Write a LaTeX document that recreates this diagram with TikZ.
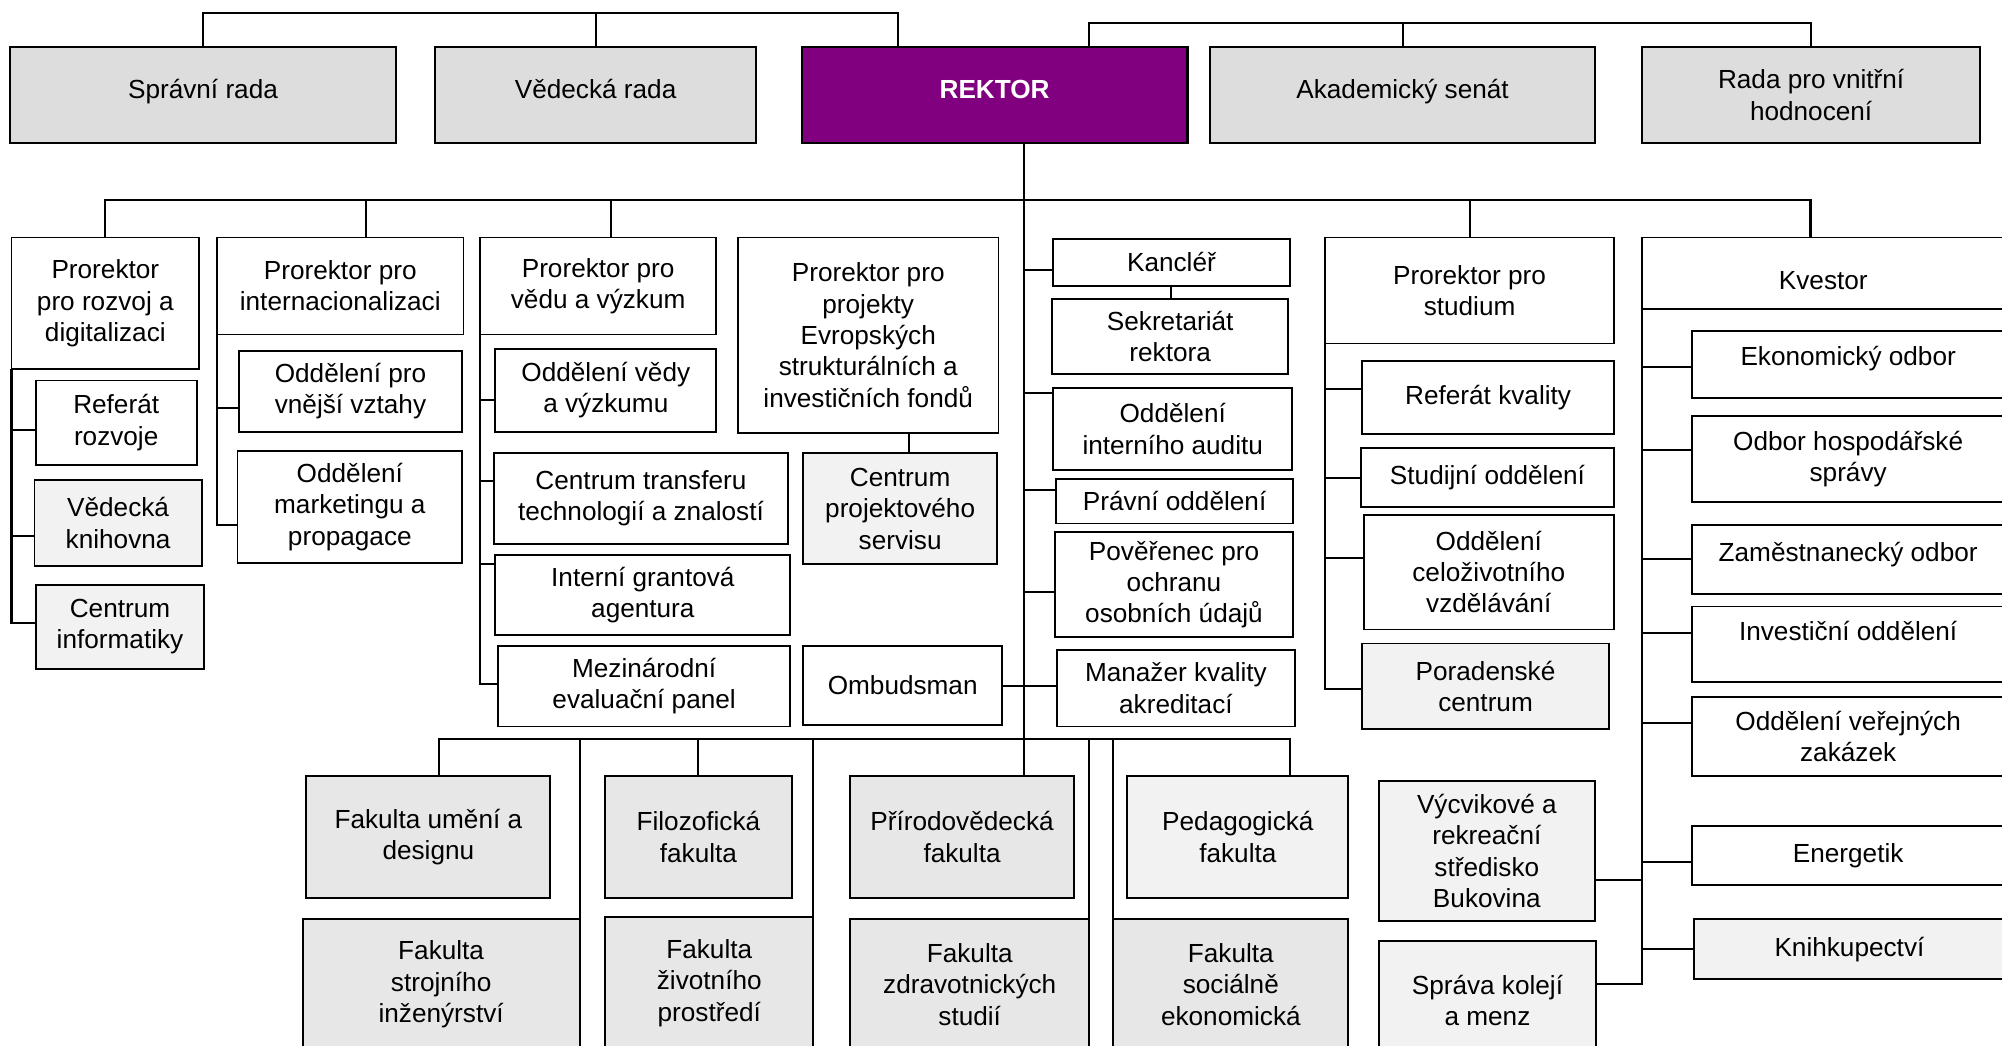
\documentclass[tikz,border=0pt]{standalone}
\usepackage{fontspec}
\setmainfont{Liberation Sans}
\definecolor{topgray}{HTML}{DDDDDD}
\definecolor{rektorpurple}{HTML}{800080}
\definecolor{palegray}{HTML}{F2F2F2}
\definecolor{facgray}{HTML}{E7E7E7}
% box given by its corners: [style]{name}{x1}{y1}{x2}{y2}{text}
\newcommand{\orgbox}[7][]{%
  \node[orgnode,#1,minimum width=#5pt-#3pt,minimum height=#6pt-#4pt]
    (#2) at ({(#3+#5)/2},{(#4+#6)/2}) {#7};}

\begin{document}
\begin{tikzpicture}[x=1pt,y=-1pt,
    orgnode/.style={draw,line width=1.5pt,fill=white,inner sep=0pt,outer sep=0pt,
      align=center,font=\fontsize{20.5}{24.5}\selectfont},
    topnode/.style={fill=topgray,line width=1.7pt},
    oneline/.style={text height=15pt,text depth=9pt},
    rektornode/.style={fill=rektorpurple,text=white,line width=1.7pt,
      font=\fontsize{20.5}{24.5}\selectfont\bfseries},
    palenode/.style={fill=palegray},
    facnode/.style={fill=facgray},
    link/.style={line width=1.6pt}]
  \useasboundingbox (0,0) rectangle (1568,819);
  \clip (0,0) rectangle (1568,819);

  % top row
  \orgbox[topnode,oneline]{spravni}{8}{37}{310}{112}{Správní rada}
  \orgbox[topnode,oneline]{vedecka}{341}{37}{592}{112}{Vědecká rada}
  \orgbox[rektornode,oneline]{rektor}{628}{37}{930}{112}{REKTOR}
  \orgbox[topnode,oneline]{senat}{948}{37}{1249}{112}{Akademický senát}
  \orgbox[topnode]{vnitrni}{1286}{37}{1551}{112}{Rada pro vnitřní\\hodnocení}

  % prorektor pro rozvoj
  \orgbox{rozvoj}{9}{186}{156}{289}{Prorektor\\pro rozvoj a\\digitalizaci}
  \orgbox{refrozvoj}{28}{298}{154}{364}{Referát\\rozvoje}
  \orgbox[palenode]{knihovna}{27}{376}{158}{443}{Vědecká\\knihovna}
  \orgbox[palenode]{informatika}{28}{458}{160}{524}{Centrum\\informatiky}

  % prorektor pro internacionalizaci
  \orgbox{intern}{170}{186}{363}{262}{Prorektor pro\\internacionalizaci}
  \orgbox{vztahy}{187}{275}{362}{338}{Oddělení pro\\vnější vztahy}
  \orgbox{marketing}{186}{353}{362}{441}{Oddělení\\marketingu a\\propagace}

  % prorektor pro vedu
  \orgbox{veda}{376}{186}{561}{262}{Prorektor pro\\vědu a výzkum}
  \orgbox{oddveda}{388}{273}{561}{338}{Oddělení vědy\\a výzkumu}
  \orgbox{transfer}{387}{355}{617}{426}{Centrum transferu\\technologií a znalostí}
  \orgbox{grant}{388}{435}{619}{497}{Interní grantová\\agentura}
  \orgbox{panel}{390}{506}{619}{569}{Mezinárodní\\evaluační panel}

  % prorektor pro projekty
  \orgbox{projekty}{578}{186}{782}{339}{Prorektor pro\\projekty\\Evropských\\strukturálních a\\investičních fondů}
  \orgbox[palenode]{servis}{629}{355}{781}{442}{Centrum\\projektového\\servisu}
  \orgbox{ombudsman}{629}{506}{785}{568}{Ombudsman}

  % pod rektorem
  \orgbox{kancler}{825}{187}{1010}{224}{Kancléř}
  \orgbox{sekretariat}{824}{234}{1009}{293}{Sekretariát\\rektora}
  \orgbox{audit}{825}{304}{1012}{368}{Oddělení\\interního auditu}
  \orgbox{pravni}{827}{375}{1013}{410}{Právní oddělení}
  \orgbox{poverenec}{826}{417}{1013}{499}{Pověřenec pro\\ochranu\\osobních údajů}
  \orgbox{manazer}{828}{509}{1014}{569}{Manažer kvality\\akreditací}

  % prorektor pro studium
  \orgbox{studium}{1038}{186}{1264}{269}{Prorektor pro\\studium}
  \orgbox{refkvality}{1067}{283}{1264}{340}{Referát kvality}
  \orgbox{studijni}{1066}{351}{1264}{397}{Studijní oddělení}
  \orgbox{celozivotni}{1068}{403}{1264}{493}{Oddělení\\celoživotního\\vzdělávání}
  \orgbox[palenode]{poradenske}{1067}{504}{1260}{571}{Poradenské\\centrum}

  % kvestor
  \orgbox[text height=30pt,text depth=4pt]{kvestor}{1286}{186}{1570}{242}{Kvestor}
  \orgbox[text height=15pt,text depth=13pt]{ekonomicky}{1325}{259}{1570}{312}{Ekonomický odbor}
  \orgbox{hospodarska}{1325}{326}{1570}{393}{Odbor hospodářské\\správy}
  \orgbox[text height=15pt,text depth=12pt]{zamestnanecky}{1325}{411}{1570}{465}{Zaměstnanecký odbor}
  \orgbox[text height=15pt,text depth=21pt]{investicni}{1325}{475}{1570}{534}{Investiční oddělení}
  \orgbox{zakazky}{1325}{546}{1570}{608}{Oddělení veřejných\\zakázek}
  \orgbox{energetik}{1325}{647}{1570}{693}{Energetik}
  \orgbox[palenode]{knihkupectvi}{1327}{720}{1570}{767}{Knihkupectví}
  \orgbox[palenode]{bukovina}{1080}{612}{1249}{721}{Výcvikové a\\rekreační\\středisko\\Bukovina}
  \orgbox[palenode]{koleje}{1080}{737}{1250}{830}{Správa kolejí\\a menz}

  % fakulty
  \orgbox[facnode]{umeni}{240}{608}{431}{703}{Fakulta umění a\\designu}
  \orgbox[facnode]{filozof}{474}{608}{620}{703}{Filozofická\\fakulta}
  \orgbox[facnode]{prirodo}{666}{608}{841}{703}{Přírodovědecká\\fakulta}
  \orgbox[palenode]{pedagog}{883}{608}{1056}{703}{Pedagogická\\fakulta}
  \orgbox[facnode]{strojni}{237}{720}{454}{822}{Fakulta\\strojního\\inženýrství}
  \orgbox[facnode]{zivotni}{474}{718}{637}{822}{Fakulta\\životního\\prostředí}
  \orgbox[facnode]{zdravot}{666}{720}{853}{822}{Fakulta\\zdravotnických\\studií}
  \orgbox[facnode]{socialni}{872}{720}{1056}{822}{Fakulta\\sociálně\\ekonomická}

  \coordinate (topL) at (0,10);
  \coordinate (topR) at (0,18);
  \coordinate (bus2) at (0,157);
  \coordinate (fbus) at (0,579);
  \coordinate (rkL) at ([xshift=-76]rektor.north);
  \coordinate (rkR) at ([xshift=74]rektor.north);
  \coordinate (trunk) at ([xshift=23]rektor.south);
  \coordinate (interndrop) at ([xshift=20]intern.north);
  \coordinate (vedadrop) at ([xshift=10]veda.north);
  \coordinate (kvdrop) at ([xshift=-10]kvestor.north);
  \coordinate (servdrop) at ([xshift=7]servis.north);
  \coordinate (umenidrop) at ([xshift=8]umeni.north);
  \coordinate (pedadrop) at ([xshift=41]pedagog.north);

  % rady
  \draw[link] (spravni.north) |- (rkL |- topL) -- (rkL);
  \draw[link] (vedecka.north) -- (vedecka.north |- topL);
  \draw[link] (rkR) |- (vnitrni.north |- topR) -- (vnitrni.north);
  \draw[link] (senat.north) -- (senat.north |- topR);

  % prorektori
  \draw[link] (trunk) -- (trunk |- prirodo.north);
  \draw[link] (rozvoj.north) |- (kvdrop |- bus2) -- (kvdrop);
  \draw[link] (interndrop) -- (interndrop |- bus2);
  \draw[link] (vedadrop) -- (vedadrop |- bus2);
  \draw[link] (studium.north) -- (studium.north |- bus2);

  \draw[link] (rozvoj.south west) |- ([yshift=-6]refrozvoj.west);
  \draw[link] (rozvoj.south west) |- ([yshift=-10]knihovna.west);
  \draw[link] (rozvoj.south west) |- ([yshift=3]informatika.west);

  \draw[link] (intern.south west) |- ([yshift=-13]vztahy.west);
  \draw[link] (intern.south west) |- ([yshift=-14]marketing.west);

  \draw[link] (veda.south west) |- ([yshift=-8]oddveda.west);
  \draw[link] (veda.south west) |- ([yshift=14]transfer.west);
  \draw[link] (veda.south west) |- ([yshift=24]grant.west);
  \draw[link] (veda.south west) |- ([yshift=2]panel.west);

  \draw[link] (servdrop) -- (servdrop |- projekty.south);

  % rektorat
  \draw[link] (trunk) |- ([yshift=-6]kancler.west);
  \draw[link] (kancler.south) -- (kancler.south |- sekretariat.north);
  \draw[link] (trunk) |- ([yshift=28]audit.west);
  \draw[link] (trunk) |- ([yshift=9]pravni.west);
  \draw[link] (trunk) |- ([yshift=-6]poverenec.west);
  \draw[link] (ombudsman.east) -- (ombudsman.east -| manazer.west);

  \draw[link] (studium.south west) |- ([yshift=7]refkvality.west);
  \draw[link] (studium.south west) |- (studijni.west);
  \draw[link] (studium.south west) |- ([yshift=11]celozivotni.west);
  \draw[link] (studium.south west) |- ([yshift=-2]poradenske.west);

  \draw[link] (kvestor.south west) |- ([yshift=-2]ekonomicky.west);
  \draw[link] (kvestor.south west) |- ([yshift=7]hospodarska.west);
  \draw[link] (kvestor.south west) |- (zamestnanecky.west);
  \draw[link] (kvestor.south west) |- ([yshift=9]investicni.west);
  \draw[link] (kvestor.south west) |- ([yshift=11]zakazky.west);
  \draw[link] (kvestor.south west) |- ([yshift=-5]energetik.west);
  \draw[link] (kvestor.south west) |- (knihkupectvi.west);
  \draw[link] (kvestor.south west) |- ([yshift=-23]bukovina.east);
  \draw[link] (kvestor.south west) |- ([yshift=13]koleje.east);

  % fakulty
  \draw[link] (umenidrop) |- (pedadrop |- fbus) -- (pedadrop);
  \draw[link] (filozof.north) -- (filozof.north |- fbus);
  \draw[link] (strojni.north east) -- (strojni.north east |- fbus);
  \draw[link] (zivotni.north east) -- (zivotni.north east |- fbus);
  \draw[link] (zdravot.north east) -- (zdravot.north east |- fbus);
  \draw[link] (socialni.north west) -- (socialni.north west |- fbus);
\end{tikzpicture}
\end{document}
